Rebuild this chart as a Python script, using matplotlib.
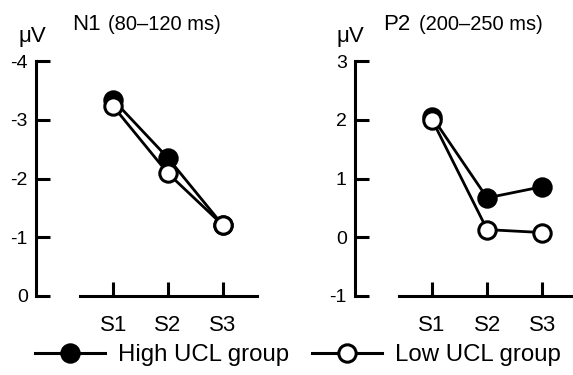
import matplotlib
matplotlib.use("Agg")
import matplotlib.pyplot as plt
from matplotlib.lines import Line2D

plt.rcParams["font.family"] = ["Liberation Sans", "DejaVu Sans"]

# data
sessions = ["S1", "S2", "S3"]
n1_high = [-3.34, -2.35, -1.21]
n1_low = [-3.23, -2.09, -1.21]
p2_high = [2.05, 0.67, 0.86]
p2_low = [2.00, 0.13, 0.08]
n1_ticks = [0, -1, -2, -3, -4]
p2_ticks = [-1, 0, 1, 2, 3]

W, H = 573, 375
LW = 2.2
MS = 12.5


def px(x0, y0, x1, y1):
    # pixel box (top-left origin) -> figure fraction rect
    return [x0 / W, (H - y1) / H, (x1 - x0) / W, (y1 - y0) / H]


def style(ax, yticks, ylim, xlim, xspan):
    ax.set_xlim(*xlim)
    ax.set_ylim(*ylim)
    for s in ("top", "right"):
        ax.spines[s].set_visible(False)
    ax.spines["left"].set_linewidth(LW)
    ax.spines["bottom"].set_linewidth(LW)
    ax.spines["left"].set_bounds(min(yticks), max(yticks))
    ax.spines["bottom"].set_bounds(*xspan)
    ax.set_yticks(yticks)
    ax.set_yticklabels([str(t) for t in yticks])
    ax.set_xticks(range(len(sessions)))
    ax.set_xticklabels(sessions)
    ax.tick_params(axis="y", direction="in", length=10, width=LW, labelsize=14, pad=6)
    ax.tick_params(axis="x", direction="in", length=10, width=LW, labelsize=16, pad=14)
    ax.patch.set_visible(False)


def draw(ax, high, low):
    x = range(len(sessions))
    ax.plot(x, high, color="black", lw=2.0, marker="o", ms=MS, mfc="black",
            mec="black", mew=2.2, clip_on=False, zorder=3)
    ax.plot(x, low, color="black", lw=2.0, marker="o", ms=MS, mfc="white",
            mec="black", mew=2.2, clip_on=False, zorder=4)


fig = plt.figure(figsize=(W / 100, H / 100), dpi=100)

ax1 = fig.add_axes(px(36, 61, 262, 296))
draw(ax1, n1_high, n1_low)
style(ax1, n1_ticks, (0, -4), (-1.41, 2.72), (-0.6, 2.62))

ax2 = fig.add_axes(px(355, 61, 573, 296))
draw(ax2, p2_high, p2_low)
style(ax2, p2_ticks, (-1, 3), (-1.4, 2.56), (-0.6, 2.56))

# panel headers
fig.text(18 / W, (H - 42) / H, "μV", fontsize=16, va="baseline")
fig.text(72 / W, (H - 30) / H, "N1", fontsize=16, va="baseline")
fig.text(108 / W, (H - 30) / H, "(80–120 ms)", fontsize=14.5, va="baseline")
fig.text(337 / W, (H - 42) / H, "μV", fontsize=16, va="baseline")
fig.text(383 / W, (H - 30) / H, "P2", fontsize=16, va="baseline")
fig.text(419 / W, (H - 30) / H, "(200–250 ms)", fontsize=14.5, va="baseline")

handles = [
    Line2D([], [], color="black", lw=LW, marker="o", ms=MS, mfc="black", mec="black", mew=2.2),
    Line2D([], [], color="black", lw=LW, marker="o", ms=MS, mfc="white", mec="black", mew=2.2),
]
fig.legend(handles, ["High UCL group", "Low UCL group"], ncol=2, frameon=False,
           loc="center left", bbox_to_anchor=(35 / W, 20 / H), fontsize=17.3,
           handlelength=2.9, handletextpad=0.55, columnspacing=0.95,
           borderpad=0, borderaxespad=0)

fig.savefig("out.png", dpi=100)
